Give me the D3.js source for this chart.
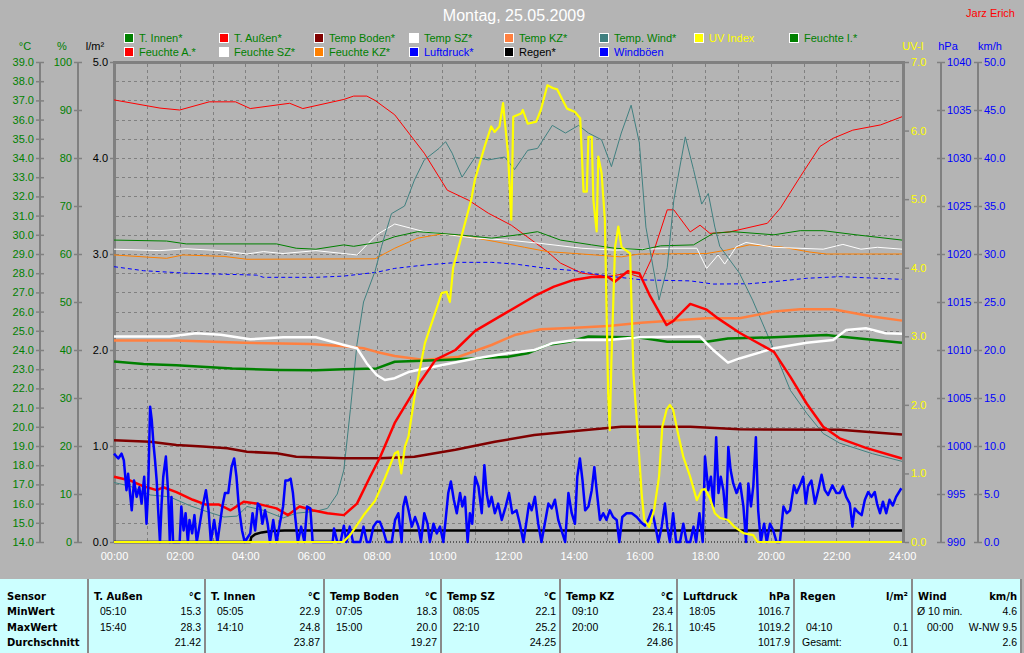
<!DOCTYPE html>
<html><head><meta charset="utf-8">
<script src="https://cdn.jsdelivr.net/npm/d3@7"></script>
<style>
body{margin:0;background:#b4b4b4;}
svg{display:block;font-family:"Liberation Sans",Arial,sans-serif;}
</style></head><body>
<svg id="c" width="1024" height="653"></svg>
<script>
// ---------- DATA (time in hours, values in native units) ----------
const tAussen=[[0,17.4],[0.5,17.2],[0.9,16.9],[1.3,16.7],[1.5,16.85],[1.9,16.6],[2.4,16.2],[2.8,15.95],[3.2,15.95],[3.55,15.65],[3.95,16.1],[4.35,16.0],[4.95,15.75],[5.3,15.4],[5.65,15.85],[6.05,15.65],[6.5,15.5],[7.0,15.4],[7.4,16.0],[7.8,17.4],[8.1,18.4],[8.55,20.2],[9.15,21.9],[9.8,23.5],[10.4,24.0],[11.0,25.0],[12.0,26.0],[12.8,26.8],[13.4,27.3],[14.0,27.65],[14.55,27.8],[15.05,27.8],[15.25,27.55],[15.65,28.1],[16.0,28.0],[16.33,26.8],[16.83,25.3],[17.03,25.5],[17.55,26.4],[18.05,26.1],[18.35,25.7],[19.05,24.9],[20.1,23.9],[20.6,22.6],[21.1,21.2],[21.6,20.0],[22.1,19.4],[22.9,18.9],[24,18.35]];
const tWind=[[0,17.1],[0.5,16.9],[1.1,16.45],[1.7,16.35],[2.3,15.9],[2.8,15.6],[3.35,15.3],[3.75,15.35],[4.05,15.85],[4.55,15.65],[5.15,15.25],[5.55,15.5],[6.15,15.6],[6.5,15.75],[6.8,16.5],[7.0,17.75],[7.2,20.9],[7.4,24.3],[7.6,26.5],[7.95,28.1],[8.15,29.4],[8.45,31.1],[8.85,31.5],[9.15,32.85],[9.45,33.9],[9.9,34.5],[10.1,34.85],[10.3,34.25],[10.6,33.0],[11.0,34.05],[11.4,33.9],[11.9,34.05],[12.2,33.4],[12.6,34.4],[12.9,34.5],[13.35,35.7],[13.75,35.3],[14.15,35.7],[14.45,35.3],[14.85,34.95],[15.15,33.55],[15.45,35.3],[15.75,36.75],[16.0,34.8],[16.2,30.4],[16.6,26.6],[16.85,28.3],[17.05,31.8],[17.4,35.1],[17.65,33.4],[17.9,31.6],[18.1,32.15],[18.3,30.4],[18.45,29.4],[19.05,28.0],[19.45,26.6],[20.1,24.0],[20.6,21.9],[21.1,20.7],[21.6,19.65],[22.1,19.15],[23.1,18.6],[24,18.2]];
const tBoden=[[0,19.3],[1.1,19.22],[1.9,19.05],[2.7,18.97],[3.45,18.88],[4.05,18.7],[4.95,18.62],[5.55,18.44],[7.0,18.36],[8.1,18.36],[9.15,18.44],[10.4,18.8],[11.6,19.22],[12.8,19.57],[14.05,19.78],[15.45,20.0],[17.55,20.0],[19.05,19.87],[22.1,19.85],[24,19.6]];
const tInnen=[[0,23.4],[0.9,23.27],[1.9,23.2],[3.6,23.04],[5.05,22.96],[6.15,22.94],[7.0,23.0],[8.0,23.04],[8.55,23.39],[10,23.48],[12,23.65],[12.6,23.83],[13.2,24.26],[13.85,24.43],[14.45,24.7],[16.0,24.65],[16.85,24.43],[18.05,24.43],[18.7,24.6],[20.1,24.66],[21.7,24.78],[22.1,24.7],[24,24.38]];
const tSZ=[[0,24.7],[1.7,24.7],[2.5,24.87],[3.25,24.8],[4.15,24.56],[5.15,24.66],[6.15,24.66],[7.0,24.26],[7.4,24.09],[7.7,23.3],[8.0,22.7],[8.25,22.44],[8.55,22.53],[9.0,22.87],[10,23.22],[11,23.56],[12,23.83],[12.8,24.0],[13.35,24.35],[14.05,24.52],[15.05,24.52],[16,24.66],[17.85,24.7],[18.05,24.35],[18.25,24.0],[18.7,23.34],[19.05,23.56],[20.1,24.09],[21.1,24.38],[21.9,24.52],[22.3,25.04],[22.9,25.13],[23.5,24.87],[24,24.85]];
const tKZ=[[0,24.49],[1.9,24.49],[3.95,24.38],[6.0,24.31],[7.0,24.2],[7.6,24.09],[8.0,23.9],[8.55,23.69],[9.45,23.48],[10.5,23.65],[11.5,24.26],[12.2,24.78],[13.0,25.08],[14.05,25.16],[15.05,25.25],[16.05,25.42],[18.05,25.65],[19.05,25.65],[20.1,26.0],[20.9,26.12],[21.9,26.12],[23.1,25.74],[24,25.53]];
const hAussen=[[0,92.1],[1.4,90.4],[2.0,90.0],[2.9,91.7],[3.7,91.7],[4.15,90.3],[5.35,91.4],[5.75,90.3],[7.0,92.2],[7.3,92.9],[7.7,92.9],[7.95,92.0],[8.55,89.0],[9.45,81.0],[10.15,73.3],[10.8,71.2],[11.4,68.5],[12.1,66.0],[13.2,60.5],[13.6,58.1],[14.25,56.0],[15.05,55.3],[15.65,56.0],[16.1,55.0],[16.35,58.7],[16.85,69.2],[17.05,69.2],[17.55,64.6],[17.85,66.0],[18.15,64.3],[18.75,64.6],[19.9,66.4],[20.3,69.6],[20.9,76.1],[21.5,82.4],[21.9,84.1],[22.5,85.8],[23.35,86.9],[24,88.6]];
const hInnen=[[0,62.9],[1.6,62.7],[2.2,62.1],[4.95,62.1],[5.55,61.2],[6.15,61.0],[7.0,61.9],[7.3,61.6],[8.1,62.5],[8.55,63.6],[9.25,64.65],[10.5,64.0],[11.5,63.3],[12.3,64.0],[12.9,64.65],[13.6,62.9],[14.55,61.9],[15.25,61.2],[16.1,60.9],[16.65,61.7],[17.65,61.9],[18.25,64.3],[18.85,64.65],[20.1,64.0],[20.9,64.86],[21.6,64.86],[22.6,64.0],[24,62.9]];
const hSZ=[[0,61.0],[1.4,60.7],[2.2,61.1],[3.25,60.7],[4.05,60.0],[4.55,60.5],[5.15,60.1],[6.15,60.7],[7.4,59.8],[7.7,61.9],[8.0,64.0],[8.55,66.25],[9.45,64.65],[11,63.3],[12,62.9],[13,62.2],[14.25,61.2],[15.25,60.8],[17.05,61.2],[17.75,61.2],[18.05,57.0],[18.4,59.8],[18.6,57.9],[18.95,61.5],[19.25,62.4],[20.1,61.4],[21.6,61.0],[22.2,62.0],[22.75,61.0],[23.25,61.4],[24,61.0]];
const hKZ=[[0,59.8],[1.6,59.1],[2.1,59.8],[3.35,59.5],[4.05,58.9],[7.95,59.0],[8.55,61.2],[9.25,63.3],[10,64.2],[10.8,63.6],[11.6,62.6],[12.5,61.4],[13.2,60.5],[14.05,60.1],[15.45,59.4],[16,60.0],[18.05,60.1],[18.65,60.8],[19.35,61.9],[20.3,61.5],[21.2,60.4],[21.7,60.0],[24,60.0]];
const luftdruck=[[0,1018.68],[0.9,1018.26],[2.2,1018.0],[4.35,1017.8],[4.55,1017.57],[6.15,1017.57],[7.0,1017.7],[8.0,1018.1],[8.55,1018.5],[9.45,1018.85],[10.5,1019.13],[11.5,1019.13],[12.2,1018.96],[13.2,1018.5],[14.05,1018.26],[15.05,1017.7],[16.1,1017.3],[17.55,1017.2],[18.25,1016.87],[19.35,1016.9],[20.1,1017.12],[21.1,1017.47],[22.1,1017.64],[24,1017.36]];
const regen=[[0,0],[4.15,0],[4.18,0.05],[4.3,0.08],[4.5,0.1],[4.8,0.115],[5.2,0.12],[24,0.12]];
const regenRate=[[0,0],[24,0]];
const uvIndex=[[0,0],[6.98,0],[7.19,0.1],[7.33,0.2],[7.6,0.39],[7.8,0.51],[7.95,0.6],[8.25,0.93],[8.55,1.29],[8.65,1.32],[8.75,1.0],[8.86,1.39],[8.97,1.54],[9.17,2.17],[9.47,2.9],[9.78,3.34],[9.98,3.63],[10.13,3.65],[10.23,3.5],[10.33,4.0],[10.58,4.45],[10.88,4.99],[10.99,5.28],[11.29,5.77],[11.49,6.06],[11.59,5.98],[11.74,6.06],[11.85,6.4],[11.9,6.15],[12.0,5.67],[12.1,4.7],[12.16,6.2],[12.4,6.25],[12.45,6.3],[12.6,6.1],[12.86,6.13],[13.0,6.3],[13.2,6.66],[13.36,6.62],[13.5,6.6],[13.8,6.32],[14.04,6.27],[14.2,6.18],[14.3,5.11],[14.4,5.11],[14.45,5.91],[14.55,5.91],[14.6,4.99],[14.7,4.53],[14.75,5.62],[14.85,5.38],[14.95,4.7],[15.05,2.17],[15.1,1.63],[15.15,2.65],[15.26,4.3],[15.36,4.6],[15.46,4.3],[15.72,4.21],[15.82,2.46],[15.97,1.44],[16.07,0.71],[16.15,0.32],[16.3,0.22],[16.45,0.47],[16.6,0.95],[16.7,1.68],[16.83,1.93],[16.93,2.0],[17.03,1.93],[17.18,1.58],[17.34,1.24],[17.55,0.95],[17.75,0.61],[17.9,0.76],[18.0,0.77],[18.15,0.64],[18.3,0.42],[18.46,0.35],[18.7,0.32],[18.9,0.22],[19.17,0.13],[19.47,0.1],[19.6,0],[24,0]];
const windboeen=[[0,9.2],[0.13,8.7],[0.23,9.2],[0.3,8.5],[0.38,5.4],[0.43,7.1],[0.54,3.3],[0.61,6.4],[0.69,4.7],[0.77,5.7],[0.84,4.0],[0.92,6.8],[0.99,1.9],[1.04,5.4],[1.1,14.1],[1.15,12.7],[1.2,10.3],[1.25,8.5],[1.3,6.4],[1.35,3.0],[1.4,0],[1.45,4.0],[1.5,6.8],[1.58,8.9],[1.65,5.1],[1.7,0],[1.75,4.7],[1.8,0],[2.0,0],[2.05,3.7],[2.12,1.2],[2.18,3.0],[2.25,0],[2.3,2.3],[2.38,0.9],[2.45,2.8],[2.52,0],[2.6,1.6],[2.7,3.7],[2.8,5.4],[2.88,3.3],[2.95,0],[3.05,2.3],[3.15,0],[3.3,3.7],[3.38,5.1],[3.48,5.1],[3.58,7.8],[3.66,8.7],[3.73,6.8],[3.8,3.7],[3.9,1.2],[3.98,0],[4.15,0.9],[4.22,3.0],[4.3,1.2],[4.38,4.0],[4.45,3.7],[4.52,1.9],[4.6,3.3],[4.68,1.9],[4.75,0],[4.85,2.3],[4.95,0],[5.05,1.9],[5.15,3.7],[5.22,6.4],[5.3,6.4],[5.38,6.6],[5.45,5.1],[5.52,2.6],[5.6,0],[5.7,1.6],[5.8,0],[5.88,3.7],[5.98,3.5],[6.05,0],[6.66,0],[6.7,1.4],[6.8,0],[6.9,0],[7.0,1.7],[7.08,0],[7.18,1.6],[7.28,0],[7.5,0],[7.6,1.6],[7.7,0],[7.8,0],[7.9,1.6],[8.0,2.1],[8.1,2.1],[8.2,1.2],[8.3,0],[8.46,0],[8.56,2.3],[8.66,3.0],[8.76,0],[8.81,3.7],[8.88,4.7],[8.97,3.3],[9.07,1.6],[9.17,2.6],[9.27,1.6],[9.35,0],[9.45,3.0],[9.55,1.9],[9.62,0],[9.73,1.9],[9.83,0.9],[9.93,1.6],[10.03,0],[10.1,2.3],[10.18,5.1],[10.26,6.3],[10.35,4.4],[10.44,3.0],[10.54,5.1],[10.61,3.7],[10.69,4.7],[10.77,0],[10.84,3.0],[10.91,1.9],[11.0,6.8],[11.1,5.8],[11.2,3.0],[11.28,8.0],[11.35,5.1],[11.42,3.7],[11.5,4.7],[11.6,3.0],[11.7,4.0],[11.81,2.3],[11.93,3.7],[12.03,5.1],[12.13,3.0],[12.26,3.3],[12.36,1.9],[12.47,0],[12.57,2.3],[12.64,4.0],[12.72,3.3],[12.82,4.7],[12.92,1.9],[13.02,0],[13.12,1.9],[13.23,4.0],[13.33,3.5],[13.43,4.4],[13.53,2.3],[13.63,1.2],[13.74,0],[13.84,5.1],[13.94,3.0],[14.04,1.9],[14.11,6.8],[14.19,8.7],[14.27,6.4],[14.35,3.3],[14.45,3.7],[14.55,5.4],[14.63,7.8],[14.7,5.4],[14.8,2.3],[14.9,3.0],[15.0,2.3],[15.1,3.3],[15.2,2.6],[15.31,2.3],[15.39,0],[15.48,2.6],[15.61,3.0],[15.77,3.0],[15.92,2.6],[16.07,2.0],[16.17,1.7],[16.27,2.3],[16.38,3.3],[16.45,2.3],[16.53,0.9],[16.58,0],[16.68,1.6],[16.78,4.0],[16.85,1.6],[16.93,0],[17.03,3.0],[17.12,0],[17.24,0],[17.34,1.9],[17.44,0],[17.55,0],[17.65,1.6],[17.73,0],[17.83,3.0],[17.93,0],[18.0,8.9],[18.1,5.4],[18.18,6.8],[18.26,3.7],[18.34,10.9],[18.41,5.1],[18.48,6.8],[18.56,5.4],[18.64,2.3],[18.71,9.9],[18.78,7.5],[18.86,6.1],[18.96,5.1],[19.07,6.1],[19.17,3.7],[19.25,0],[19.32,6.1],[19.4,3.7],[19.47,5.8],[19.55,10.9],[19.62,3.3],[19.7,0],[19.8,1.9],[19.88,0],[19.98,1.9],[20.08,1.2],[20.18,0],[20.28,0],[20.39,3.7],[20.49,3.0],[20.59,3.3],[20.71,5.9],[20.79,5.1],[20.89,5.9],[20.99,6.8],[21.07,4.0],[21.14,5.8],[21.24,6.4],[21.35,4.0],[21.45,5.4],[21.55,7.0],[21.65,5.4],[21.75,4.9],[21.88,5.9],[22.0,5.1],[22.1,5.1],[22.2,5.8],[22.3,4.7],[22.41,4.0],[22.49,1.6],[22.56,3.5],[22.66,3.1],[22.77,2.8],[22.87,4.4],[22.97,5.2],[23.07,4.7],[23.17,5.2],[23.24,4.0],[23.33,3.0],[23.42,4.2],[23.52,3.0],[23.62,4.4],[23.72,3.8],[23.82,4.7],[23.98,5.6]];

// tick values
const tempTicks=d3.range(14,40,1);
const humTicks=d3.range(0,101,10);
const rainTicks=d3.range(0,6,1);
const uvTicks=d3.range(0,8,1);
const hpaTicks=d3.range(990,1041,5);
const kmhTicks=d3.range(0,51,5);
const hourTicks=d3.range(0,25,2);

// legend
const legendRow1=["T. Innen*","T. Außen*","Temp Boden*","Temp SZ*","Temp KZ*","Temp. Wind*","UV Index","Feuchte I.*"];
const legendRow1Box=["#008000","#ff0000","#800000","#ffffff","#ff8040","#408080","#ffff00","#008000"];
const legendRow1Text=["#008000","#008000","#008000","#008000","#008000","#008000","#ffff00","#008000"];
const legendRow2=["Feuchte A.*","Feuchte SZ*","Feuchte KZ*","Luftdruck*","Regen*","Windböen"];
const legendRow2Box=["#ff0000","#ffffff","#ff8000","#0000ff","#000000","#0000ff"];
const legendRow2Text=["#008000","#008000","#008000","#0000ff","#000000","#0000ff"];

// table
const tableHeaders=["T. Außen","T. Innen","Temp Boden","Temp SZ","Temp KZ","Luftdruck","Regen","Wind"];
const tableUnits=["°C","°C","°C","°C","°C","hPa","l/m²","km/h"];
const minTimes=["05:10","05:05","07:05","08:05","09:10","18:05","","Ø 10 min."];
const minVals=["15.3","22.9","18.3","22.1","23.4","1016.7","","4.6"];
const maxTimes=["15:40","14:10","15:00","22:10","20:00","10:45","04:10","00:00"];
const maxVals=["28.3","24.8","20.0","25.2","26.1","1019.2","0.1","W-NW 9.5"];
const avgLabels=["","","","","","","Gesamt:",""];
const avgVals=["21.42","23.87","19.27","24.25","24.86","1017.9","0.1","2.6"];
const rowLabels=["Sensor","MinWert","MaxWert","Durchschnitt"];

// ---------- DRAWING ----------
const svg=d3.select("#c");
const GRAY="#808080";
svg.append("rect").attr("width",1024).attr("height",653).attr("fill","#b4b4b4");

const x=d3.scaleLinear().domain([0,24]).range([114,902]);
const yT=d3.scaleLinear().domain([14,39]).range([542,62]);
const yH=d3.scaleLinear().domain([0,100]).range([542,62]);
const yR=d3.scaleLinear().domain([0,5]).range([542,62]);
const yU=d3.scaleLinear().domain([0,7]).range([542,62]);
const yP=d3.scaleLinear().domain([990,1040]).range([542,62]);
const yW=d3.scaleLinear().domain([0,50]).range([542,62]);

// grid
const grid=svg.append("g").attr("stroke",GRAY).attr("stroke-width",1).attr("stroke-dasharray","3,3");
tempTicks.filter(v=>v>14&&v<39).forEach(v=>{
  const yy=Math.round(yT(v))+0.5;
  grid.append("line").attr("x1",116).attr("x2",902).attr("y1",yy).attr("y2",yy);
});
d3.range(1,24).forEach(h=>{
  const xx=Math.round(x(h))+0.5;
  grid.append("line").attr("x1",xx).attr("x2",xx).attr("y1",64).attr("y2",542);
});

// frame
svg.append("line").attr("x1",113).attr("x2",905).attr("y1",62.5).attr("y2",62.5).attr("stroke",GRAY).attr("stroke-width",3);
svg.append("line").attr("x1",114.5).attr("x2",114.5).attr("y1",61).attr("y2",543).attr("stroke",GRAY).attr("stroke-width",3);
svg.append("line").attr("x1",903.5).attr("x2",903.5).attr("y1",61).attr("y2",543).attr("stroke",GRAY).attr("stroke-width",3);

// axis lines
[[40],[78],[941],[978]].forEach(([ax])=>{
  svg.append("line").attr("x1",ax).attr("x2",ax).attr("y1",62).attr("y2",542).attr("stroke",GRAY).attr("stroke-width",2);
});

function styleAxis(g,color){
  g.select(".domain").remove();
  g.selectAll(".tick line").attr("stroke",GRAY).attr("stroke-width",1.5);
  g.selectAll(".tick text").attr("fill",color).style("font-size","11px").style("font-family","'Liberation Sans',Arial,sans-serif");
}
const f1=d3.format(".1f");
styleAxis(svg.append("g").attr("transform","translate(44,0)").call(d3.axisLeft(yT).tickValues(tempTicks).tickFormat(f1).tickSize(8).tickPadding(2)),"#008000");
styleAxis(svg.append("g").attr("transform","translate(82,0)").call(d3.axisLeft(yH).tickValues(humTicks).tickFormat(d3.format("d")).tickSize(8).tickPadding(2)),"#008000");
styleAxis(svg.append("g").attr("transform","translate(114,0)").call(d3.axisLeft(yR).tickValues(rainTicks).tickFormat(f1).tickSize(4).tickPadding(2)),"#000000");
styleAxis(svg.append("g").attr("transform","translate(905,0)").call(d3.axisRight(yU).tickValues(uvTicks).tickFormat(f1).tickSize(4).tickPadding(2)),"#ffff00");
styleAxis(svg.append("g").attr("transform","translate(937,0)").call(d3.axisRight(yP).tickValues(hpaTicks).tickFormat(d3.format("d")).tickSize(8).tickPadding(2)),"#0000ff");
styleAxis(svg.append("g").attr("transform","translate(974,0)").call(d3.axisRight(yW).tickValues(kmhTicks).tickFormat(f1).tickSize(8).tickPadding(2)),"#0000ff");
const xa=svg.append("g").attr("transform","translate(0,542)").call(d3.axisBottom(x).tickValues(hourTicks).tickFormat(d=>String(d).padStart(2,"0")+":00").tickSize(0).tickPadding(10));
xa.select(".domain").remove();
xa.selectAll(".tick text").attr("fill","#ffffff").style("font-size","11px");

// unit labels
const units=[["°C",25,"#008000"],["%",62,"#008000"],["l/m²",95,"#000000"],["UV-I",913,"#ffff00"],["hPa",948,"#0000ff"],["km/h",990,"#0000ff"]];
units.forEach(([t,ux,c])=>svg.append("text").attr("x",ux).attr("y",50).attr("text-anchor","middle").attr("fill",c).style("font-size","11px").text(t));

// series
function drawLine(data,ys,color,width,dash){
  const line=d3.line().x(d=>x(d[0])).y(d=>ys(d[1]));
  const p=svg.append("path").datum(data).attr("d",line).attr("fill","none").attr("stroke",color).attr("stroke-width",width).attr("stroke-linejoin","round");
  if(dash) p.attr("stroke-dasharray",dash);
}
drawLine(regenRate,yR,"#000000",1,"1,2");
drawLine(hAussen,yH,"#ff0000",1);
drawLine(hKZ,yH,"#ff8000",1);
drawLine(hSZ,yH,"#ffffff",1);
drawLine(hInnen,yH,"#008000",1);
drawLine(luftdruck,yP,"#0000ff",1,"4,3");
drawLine(tWind,yT,"#408080",1);
drawLine(tBoden,yT,"#800000",2.5);
drawLine(tKZ,yT,"#ff8040",2.5);
drawLine(tInnen,yT,"#008000",2.5);
drawLine(tSZ,yT,"#ffffff",2.5);
drawLine(tAussen,yT,"#ff0000",2.5);
drawLine(regen,yR,"#000000",2.5);
drawLine(windboeen,yW,"#0000ff",2.5);
drawLine(uvIndex,yU,"#ffff00",2.2);

// title
svg.append("text").attr("x",514).attr("y",21).attr("text-anchor","middle").attr("fill","#ffffff").style("font-size","16px").text("Montag, 25.05.2009");
svg.append("text").attr("x",1015).attr("y",17).attr("text-anchor","end").attr("fill","#ff0000").style("font-size","11px").text("Jarz Erich");

// legend
function legendRow(names,boxes,texts,yy){
  names.forEach((n,i)=>{
    const lx=124+i*95;
    svg.append("rect").attr("x",lx+0.5).attr("y",yy+0.5).attr("width",9).attr("height",9).attr("fill",boxes[i]).attr("stroke","#ffffff").attr("stroke-width",1);
    svg.append("text").attr("x",lx+15).attr("y",yy+9).attr("fill",texts[i]).style("font-size","11px").text(n);
  });
}
legendRow(legendRow1,legendRow1Box,legendRow1Text,33);
legendRow(legendRow2,legendRow2Box,legendRow2Text,47);

// table
const colEdges=[88,205,324,441,560,677,794,912,1021];
svg.append("rect").attr("x",0).attr("y",579).attr("width",1021).attr("height",74).attr("fill","#ccffff");
colEdges.forEach(cx=>{
  svg.append("line").attr("x1",cx).attr("x2",cx).attr("y1",579).attr("y2",653).attr("stroke","#8a8a8a").attr("stroke-width",2);
});
const rowY=[600,615,631,646];
const boldF="'DejaVu Sans',Verdana,sans-serif";
rowLabels.forEach((r,i)=>svg.append("text").attr("x",7).attr("y",rowY[i]).style("font-family",boldF).style("font-weight","bold").style("font-size","10px").attr("fill","#000").text(r));
tableHeaders.forEach((h,i)=>{
  const s=colEdges[i], e=colEdges[i+1];
  const tb=(t,xx,yy,anchor)=>svg.append("text").attr("x",xx).attr("y",yy).attr("text-anchor",anchor||"start").style("font-family",boldF).style("font-weight","bold").style("font-size","10px").attr("fill","#000").text(t);
  const tn=(t,xx,yy,anchor)=>svg.append("text").attr("x",xx).attr("y",yy).attr("text-anchor",anchor||"start").style("font-size","10.5px").attr("fill","#000").text(t);
  tb(h,s+6,rowY[0]);
  tb(tableUnits[i],e-4,rowY[0],"end");
  const isWind=i===7;
  tn(minTimes[i],s+(isWind?5:12),rowY[1]);
  tn(minVals[i],e-4,rowY[1],"end");
  tn(maxTimes[i],s+(isWind?15:12),rowY[2]);
  tn(maxVals[i],e-4,rowY[2],"end");
  tn(avgLabels[i],s+8,rowY[3]);
  tn(avgVals[i],e-4,rowY[3],"end");
});
</script></body></html>
